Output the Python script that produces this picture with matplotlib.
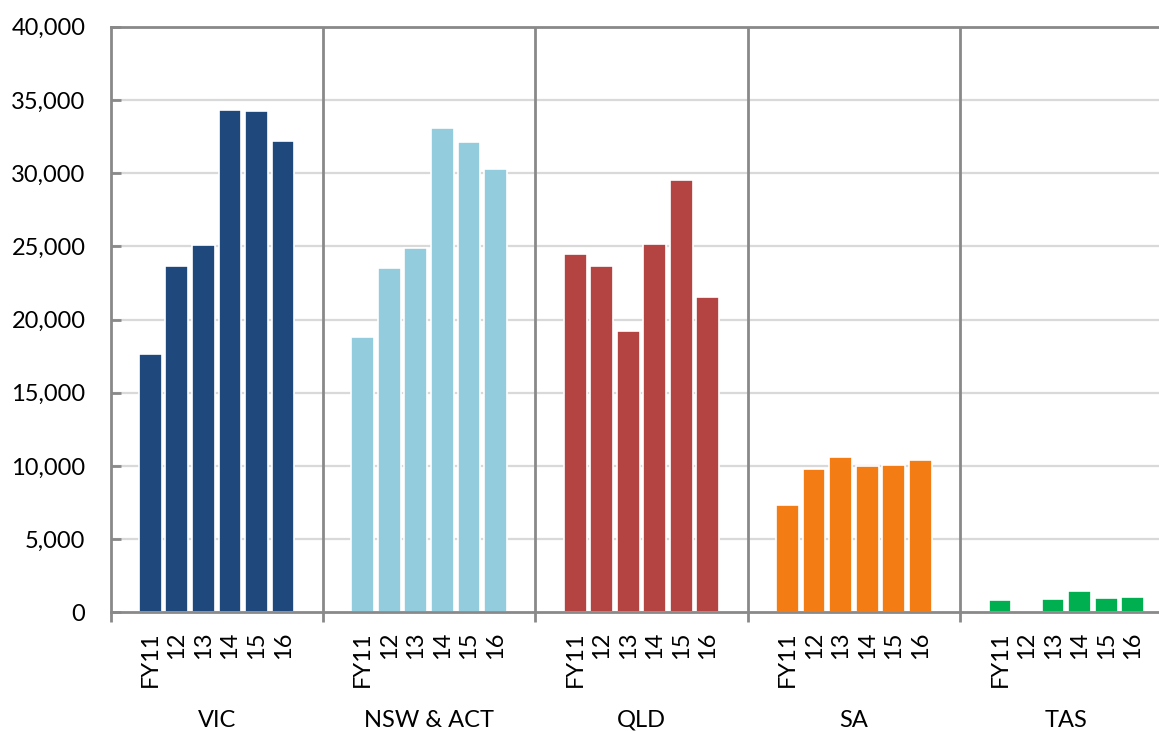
import matplotlib
matplotlib.use("Agg")
import matplotlib.pyplot as plt
from matplotlib.ticker import FuncFormatter, FixedLocator
import numpy as np

plt.rcParams['font.family'] = ['Lato', 'DejaVu Sans']

# Data
years = ['FY11', '12', '13', '14', '15', '16']
regions = ['VIC', 'NSW & ACT', 'QLD', 'SA', 'TAS']
vic = [17650, 23650, 25100, 34300, 34250, 32200]
nsw = [18800, 23550, 24850, 33050, 32150, 30250]
qld = [24450, 23650, 19200, 25150, 29500, 21550]
sa = [7300, 9800, 10600, 10000, 10050, 10430]
tas = [830, 0, 940, 1470, 950, 1060]
colors = ['#1F497D', '#93CDDD', '#B44442', '#F47C14', '#00B050']

series = [vic, nsw, qld, sa, tas]
slots = 8  # six years plus an empty slot on each side of a region

W, H = 1159, 731
fig = plt.figure(figsize=(W / 100, H / 100), dpi=100)
left, right = 110.5, 110.5 + 40 * 26.55
top, bottom = 26.7, 612.3
ax = fig.add_axes([left / W, (H - bottom) / H, (right - left) / W, (bottom - top) / H])

gray = '#898989'
fs = 17
for yv in range(5000, 40000, 5000):
    ax.axhline(yv, color='#D9D9D9', lw=1.6, zorder=0)

label_pos, label_txt = [], []
for g, (vals, col) in enumerate(zip(series, colors)):
    xs = g * slots + 1 + np.arange(len(years))
    ax.bar(xs, vals, width=0.86, color=col, edgecolor='white', linewidth=1.2, zorder=2)
    label_pos.extend(xs)
    label_txt.extend(years)
    ax.text(g * slots + 3.5, -0.184, regions[g], transform=ax.get_xaxis_transform(),
            ha='center', va='center', fontsize=fs, color='#000000')

for b in range(1, 5):
    ax.axvline(b * slots - 0.5, color=gray, lw=2, zorder=3)

ax.set_xlim(-0.5, 5 * slots - 0.5)
ax.set_ylim(0, 40000)

# group boundary ticks below the axis, year labels in between
ax.xaxis.set_major_locator(FixedLocator([b * slots - 0.5 for b in range(6)]))
ax.xaxis.set_major_formatter(FuncFormatter(lambda v, p: ''))
ax.tick_params(axis='x', which='major', direction='out', length=7, width=2, color=gray)
ax.xaxis.set_minor_locator(FixedLocator(label_pos))
ax.set_xticklabels(label_txt, minor=True, rotation=90, fontsize=fs)
ax.tick_params(axis='x', which='minor', length=0, pad=14)

ax.set_yticks(range(0, 40001, 5000))
ax.yaxis.set_major_formatter(FuncFormatter(lambda v, p: f'{int(v):,}'))
ax.tick_params(axis='y', direction='in', length=7, width=2, color=gray, labelsize=fs, pad=18)

for s in ['left', 'bottom', 'top']:
    ax.spines[s].set_color(gray)
    ax.spines[s].set_linewidth(2)
ax.spines['right'].set_visible(False)

fig.savefig('out.png', dpi=100)
